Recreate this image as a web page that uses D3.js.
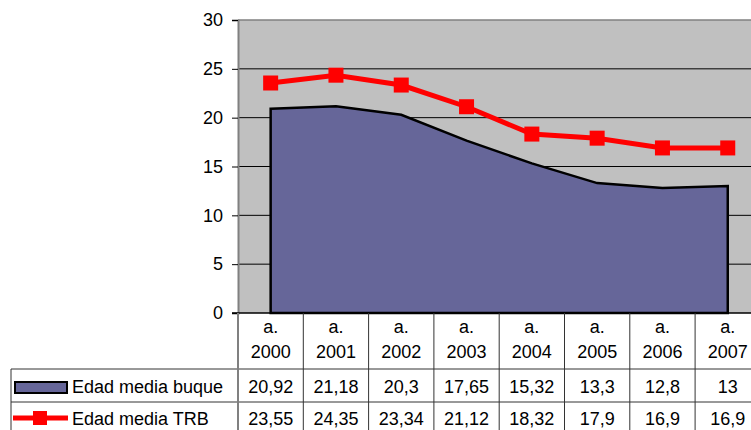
<!DOCTYPE html>
<html>
<head>
<meta charset="utf-8">
<script src="https://cdn.jsdelivr.net/npm/d3@7"></script>
<style>
  body { margin: 0; background: #fff; }
  text { font-family: "Liberation Sans", Arial, sans-serif; }
</style>
</head>
<body>
<svg id="root"></svg>
<script>
// data
const years = ["2000", "2001", "2002", "2003", "2004", "2005", "2006", "2007"];
const buque = [20.92, 21.18, 20.3, 17.65, 15.32, 13.3, 12.8, 13];
const trb = [23.55, 24.35, 23.34, 21.12, 18.32, 17.9, 16.9, 16.9];
const yTicks = [0, 5, 10, 15, 20, 25, 30];
const seriesNames = ["Edad media buque", "Edad media TRB"];

const W = 751, H = 430;
const plotLeft = 238, plotTop = 20, plotBottom = 313;
const colW = 65.3;
const plotRight = plotLeft + colW * years.length;
const fs = 18;
const mk = 15; // marker size

const svg = d3.select("#root").attr("width", W).attr("height", H);

var x = d3.scaleBand().domain(years).range([plotLeft, plotRight]);
var y = d3.scaleLinear([0, 30], [plotBottom, plotTop]);
const cx = d => x(d) + x.bandwidth() / 2;

// plot background
svg.append("rect")
  .attr("x", plotLeft).attr("y", plotTop)
  .attr("width", plotRight - plotLeft).attr("height", plotBottom - plotTop)
  .attr("fill", "#c0c0c0");

// gridlines
svg.append("g")
  .selectAll("line")
  .data(yTicks.filter(d => d > 0 && d < 30))
  .join("line")
  .attr("x1", plotLeft).attr("x2", plotRight)
  .attr("y1", d => y(d)).attr("y2", d => y(d))
  .attr("stroke", "#000").attr("stroke-width", 1);

// area series
var area = d3.area()
  .x((d, i) => cx(years[i]))
  .y0(y(0))
  .y1(d => y(d));
svg.append("path")
  .datum(buque)
  .attr("d", area)
  .attr("fill", "#666699")
  .attr("stroke", "#000")
  .attr("stroke-width", 2.5)
  .attr("stroke-linejoin", "miter");

// line series
var line = d3.line()
  .x((d, i) => cx(years[i]))
  .y(d => y(d));
svg.append("path")
  .datum(trb)
  .attr("d", line)
  .attr("fill", "none")
  .attr("stroke", "#ff0000")
  .attr("stroke-width", 5);
svg.append("g")
  .selectAll("rect")
  .data(trb)
  .join("rect")
  .attr("x", (d, i) => cx(years[i]) - mk / 2)
  .attr("y", d => y(d) - mk / 2)
  .attr("width", mk).attr("height", mk)
  .attr("fill", "#ff0000");

// plot frame (top)
svg.append("line")
  .attr("x1", plotLeft).attr("x2", plotRight).attr("y1", plotTop).attr("y2", plotTop)
  .attr("stroke", "#808080").attr("stroke-width", 1.5);

// y axis
var yAxis = d3.axisLeft(y).tickValues(yTicks).tickSize(6).tickPadding(9);
const ya = svg.append("g")
  .attr("transform", `translate(${plotLeft},0)`)
  .call(yAxis);
ya.select(".domain").attr("stroke", "#808080").attr("stroke-width", 2);
ya.selectAll(".tick line").attr("stroke", "#000");
ya.selectAll(".tick text")
  .attr("font-size", fs)
  .attr("font-family", "Liberation Sans, Arial, sans-serif")
  .attr("fill", "#000");

// data table
const rowTop = 369, row2 = 402, rowBot = 436;
const tbl = svg.append("g");
const lineColor = "#333";

// bottom axis line
tbl.append("line")
  .attr("x1", plotLeft - 6).attr("x2", plotRight).attr("y1", plotBottom).attr("y2", plotBottom)
  .attr("stroke", "#000").attr("stroke-width", 1.5);

// horizontal rules
[rowTop, row2].forEach(r => {
  tbl.append("line")
    .attr("x1", 11).attr("x2", plotRight).attr("y1", r).attr("y2", r)
    .attr("stroke", lineColor).attr("stroke-width", 1);
});
// left border of legend column
tbl.append("line")
  .attr("x1", 11).attr("x2", 11).attr("y1", rowTop).attr("y2", rowBot)
  .attr("stroke", lineColor).attr("stroke-width", 1);

// vertical rules
tbl.selectAll("line.v")
  .data(years)
  .join("line")
  .attr("class", "v")
  .attr("x1", d => x(d)).attr("x2", d => x(d))
  .attr("y1", plotBottom).attr("y2", rowBot)
  .attr("stroke", (d, i) => i === 0 ? "#808080" : lineColor)
  .attr("stroke-width", (d, i) => i === 0 ? 2 : 1);

// header labels
tbl.selectAll("text.a")
  .data(years)
  .join("text")
  .attr("class", "a")
  .attr("x", d => cx(d)).attr("y", 333)
  .attr("text-anchor", "middle")
  .attr("font-size", fs)
  .text("a.");
tbl.selectAll("text.yr")
  .data(years)
  .join("text")
  .attr("class", "yr")
  .attr("x", d => cx(d)).attr("y", 358)
  .attr("text-anchor", "middle")
  .attr("font-size", fs)
  .text(d => d);

const fmt = v => String(v).replace(".", ",");
[buque, trb].forEach((vals, k) => {
  const yy = k === 0 ? 393 : 425;
  tbl.selectAll("text.r" + k)
    .data(vals)
    .join("text")
    .attr("class", "r" + k)
    .attr("x", (d, i) => cx(years[i])).attr("y", yy)
    .attr("text-anchor", "middle")
    .attr("font-size", fs)
    .text(d => fmt(d));
  tbl.append("text")
    .attr("x", 72).attr("y", yy)
    .attr("font-size", fs)
    .text(seriesNames[k]);
});

// legend keys
tbl.append("rect")
  .attr("x", 15).attr("y", 382).attr("width", 52).attr("height", 11)
  .attr("fill", "#666699").attr("stroke", "#000").attr("stroke-width", 2);
tbl.append("line")
  .attr("x1", 13).attr("x2", 68).attr("y1", 418).attr("y2", 418)
  .attr("stroke", "#ff0000").attr("stroke-width", 5);
tbl.append("rect")
  .attr("x", 33).attr("y", 411).attr("width", 14).attr("height", 14)
  .attr("fill", "#ff0000");
</script>
</body>
</html>
